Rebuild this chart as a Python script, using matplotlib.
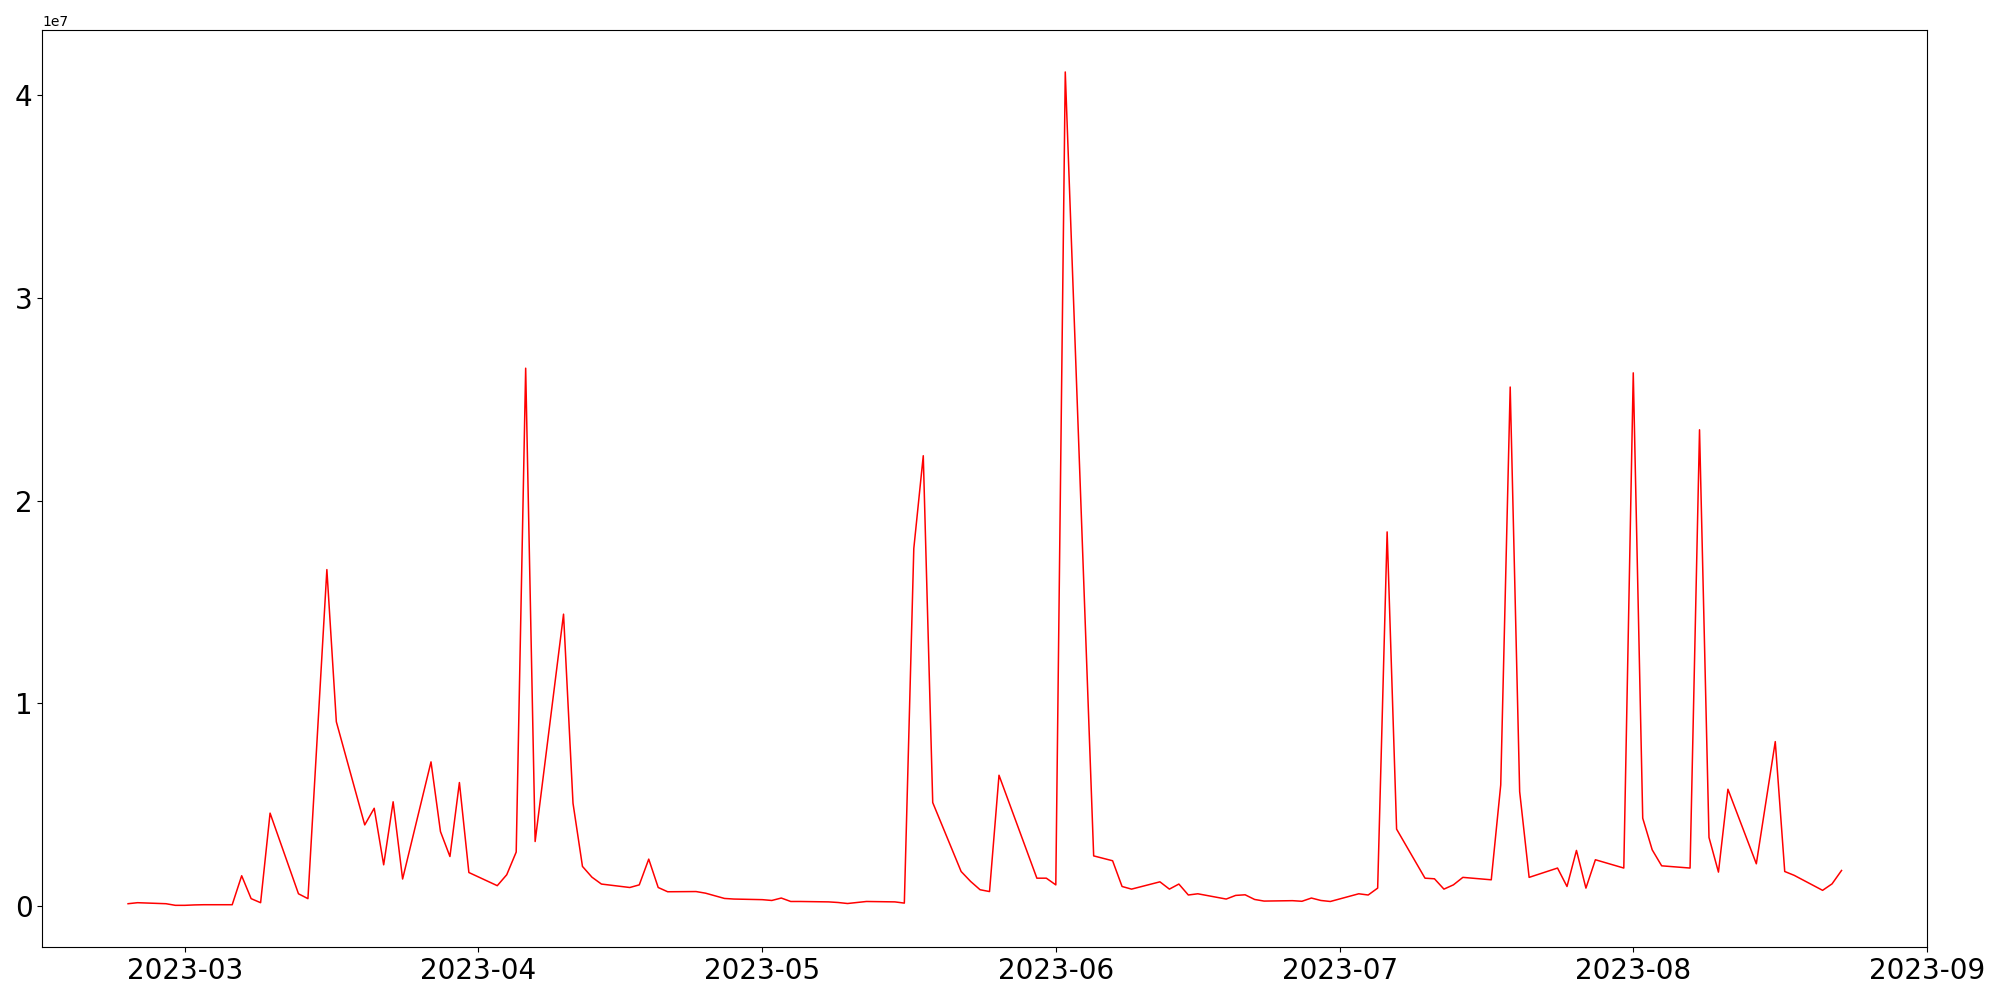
import matplotlib
matplotlib.use("Agg")
import matplotlib.pyplot as plt
import matplotlib.dates as mdates
import pandas as pd

dates = [
    "2023-02-23", "2023-02-24", "2023-02-27", "2023-02-28", "2023-03-01", "2023-03-02", "2023-03-03",
    "2023-03-06", "2023-03-07", "2023-03-08", "2023-03-09", "2023-03-10",
    "2023-03-13", "2023-03-14", "2023-03-16", "2023-03-17",
    "2023-03-20", "2023-03-21", "2023-03-22", "2023-03-23", "2023-03-24",
    "2023-03-27", "2023-03-28", "2023-03-29", "2023-03-30", "2023-03-31",
    "2023-04-03", "2023-04-04", "2023-04-05", "2023-04-06", "2023-04-07",
    "2023-04-10", "2023-04-11", "2023-04-12", "2023-04-13", "2023-04-14",
    "2023-04-17", "2023-04-18", "2023-04-19", "2023-04-20", "2023-04-21",
    "2023-04-24", "2023-04-25", "2023-04-26", "2023-04-27", "2023-04-28",
    "2023-05-01", "2023-05-02", "2023-05-03", "2023-05-04", "2023-05-05",
    "2023-05-08", "2023-05-09", "2023-05-10", "2023-05-11", "2023-05-12",
    "2023-05-15", "2023-05-16", "2023-05-17", "2023-05-18", "2023-05-19",
    "2023-05-22", "2023-05-23", "2023-05-24", "2023-05-25", "2023-05-26",
    "2023-05-30", "2023-05-31", "2023-06-01", "2023-06-02",
    "2023-06-05", "2023-06-07", "2023-06-08", "2023-06-09",
    "2023-06-12", "2023-06-13", "2023-06-14", "2023-06-15", "2023-06-16",
    "2023-06-19", "2023-06-20", "2023-06-21", "2023-06-22", "2023-06-23",
    "2023-06-26", "2023-06-27", "2023-06-28", "2023-06-29", "2023-06-30",
    "2023-07-03", "2023-07-04", "2023-07-05", "2023-07-06", "2023-07-07",
    "2023-07-10", "2023-07-11", "2023-07-12", "2023-07-13", "2023-07-14",
    "2023-07-17", "2023-07-18", "2023-07-19", "2023-07-20", "2023-07-21",
    "2023-07-24", "2023-07-25", "2023-07-26", "2023-07-27", "2023-07-28",
    "2023-07-31", "2023-08-01", "2023-08-02", "2023-08-03", "2023-08-04",
    "2023-08-07", "2023-08-08", "2023-08-09", "2023-08-10", "2023-08-11",
    "2023-08-14", "2023-08-16", "2023-08-17", "2023-08-18",
    "2023-08-21", "2023-08-22", "2023-08-23",
]

# values in units of 1e7
values_1e7 = [
    0.010, 0.015, 0.010, 0.002, 0.002, 0.004, 0.005,
    0.005, 0.148, 0.035, 0.015, 0.457,
    0.059, 0.035, 1.659, 0.908,
    0.399, 0.481, 0.202, 0.513, 0.132,
    0.710, 0.366, 0.243, 0.608, 0.164,
    0.099, 0.153, 0.265, 2.653, 0.317,
    1.439, 0.506, 0.194, 0.141, 0.107,
    0.090, 0.103, 0.230, 0.090, 0.069,
    0.070, 0.062, 0.049, 0.036, 0.033,
    0.030, 0.026, 0.038, 0.021, 0.021,
    0.019, 0.016, 0.011, 0.016, 0.021,
    0.019, 0.013, 1.763, 2.221, 0.509,
    0.169, 0.120, 0.079, 0.070, 0.644,
    0.136, 0.136, 0.103, 4.115,
    0.246, 0.222, 0.095, 0.082,
    0.118, 0.082, 0.107, 0.053, 0.059,
    0.033, 0.051, 0.054, 0.031, 0.023,
    0.025, 0.022, 0.038, 0.026, 0.021,
    0.059, 0.053, 0.087, 1.845, 0.378,
    0.136, 0.133, 0.082, 0.103, 0.140,
    0.128, 0.596, 2.560, 0.563, 0.140,
    0.186, 0.095, 0.273, 0.087, 0.227,
    0.186, 2.630, 0.432, 0.276, 0.197,
    0.186, 2.349, 0.337, 0.166, 0.575,
    0.207, 0.810, 0.169, 0.150,
    0.076, 0.108, 0.174,
]

x = pd.to_datetime(dates)
y = [v * 1e7 for v in values_1e7]

fig = plt.figure(figsize=(20, 10), dpi=100)
ax = fig.add_axes([0.0212, 0.053, 0.9424, 0.9167])
ax.plot(x, y, color="red", linewidth=1.1)

ax.xaxis.set_major_locator(mdates.MonthLocator())
ax.xaxis.set_major_formatter(mdates.DateFormatter("%Y-%m"))
ax.tick_params(axis="both", labelsize=20)

fig.savefig("out.png", dpi=100)
